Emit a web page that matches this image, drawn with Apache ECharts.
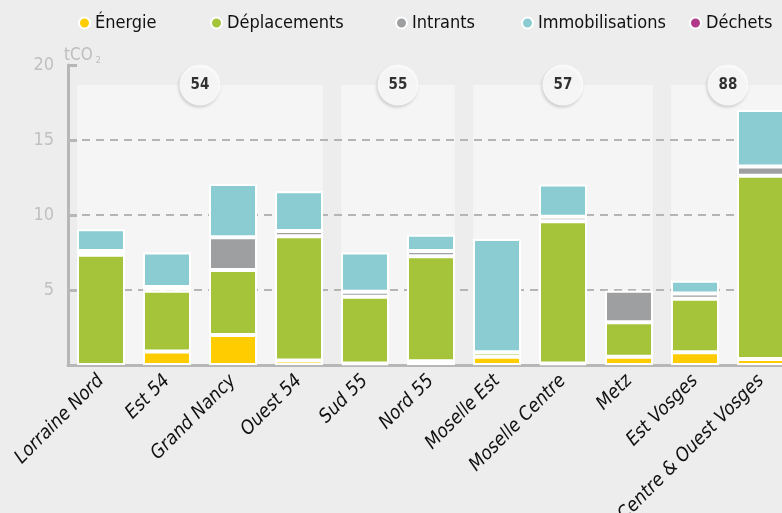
<!DOCTYPE html>
<html>
<head>
<meta charset="utf-8">
<script src="https://cdn.jsdelivr.net/npm/echarts@6/dist/echarts.min.js"></script>
<style>
  html, body { margin: 0; padding: 0; background: #ecedec; }
  #main { width: 782px; height: 513px; }
</style>
</head>
<body>
<div id="main"></div>
<script>
var categories = ['Lorraine Nord', 'Est 54', 'Grand Nancy', 'Ouest 54', 'Sud 55', 'Nord 55',
  'Moselle Est', 'Moselle Centre', 'Metz', 'Est Vosges', 'Centre & Ouest Vosges'];
var energie         = [0,    0.9,  2.0,  0.3,  0.1,  0.25, 0.55, 0.1,  0.55, 0.85, 0.4];
var deplacements    = [7.35, 4.05, 4.33, 8.28, 4.45, 7.0,  0.3,  9.48, 2.3,  3.57, 12.22];
var intrants        = [0.25, 0.25, 2.18, 0.35, 0.33, 0.35, 0,    0.3,  2.1,  0.35, 0.62];
var immobilisations = [1.45, 2.3,  3.56, 2.65, 2.62, 1.09, 7.55, 2.15, 0,    0.85, 3.76];
var dechets         = [0,    0,    0,    0,    0,    0,    0,    0,    0,    0,    0];
var yTicks = [0, 5, 10, 15, 20];

// departement groups: label, first and last category index
var groupLabels = ['54', '55', '57', '88'];
var groupFirst  = [0, 4, 6, 9];
var groupLast   = [3, 5, 8, 10];

var names = ['Énergie', 'Déplacements', 'Intrants', 'Immobilisations', 'Déchets'];
var colors = ['#ffcc00', '#a5c439', '#9d9fa1', '#8accd2', '#b0398a'];
var seriesData = [energie, deplacements, intrants, immobilisations, dechets];
var legendLeft = [78, 210, 395, 521, 689];

var font = "'Liberation Sans Narrow', 'DejaVu Sans Condensed', Roboto, sans-serif";
var axisGray = '#b7b7b7';
var half = 0.36; // half bar width in category units
var panelTop = 18.67;

var chart = echarts.init(document.getElementById('main'));

var series = names.map(function (n, i) {
  return {
    name: n,
    type: 'bar',
    stack: 'total',
    barWidth: 48,
    data: seriesData[i].map(function (v) { return v === 0 ? null : v; }),
    itemStyle: { color: colors[i], borderColor: '#ffffff', borderWidth: 2 },
    z: 4
  };
});

// lighter panels behind each group
series.push({
  type: 'scatter',
  xAxisIndex: 1,
  data: [],
  silent: true,
  z: 0,
  markArea: {
    silent: true,
    itemStyle: { color: '#f5f5f5' },
    data: groupLabels.map(function (g, i) {
      return [{ xAxis: groupFirst[i] + 0.5 - half, yAxis: 0 },
              { xAxis: groupLast[i] + 0.5 + half, yAxis: panelTop }];
    })
  }
});

// numbered bubbles
series.push({
  type: 'scatter',
  xAxisIndex: 1,
  silent: true,
  symbolSize: 41,
  z: 6,
  itemStyle: {
    color: '#ffffff',
    shadowColor: 'rgba(0,0,0,0.2)',
    shadowBlur: 3,
    shadowOffsetX: -1,
    shadowOffsetY: 2
  },
  label: {
    show: true,
    position: 'inside',
    formatter: function (p) { return p.data[2]; },
    color: '#000',
    fontWeight: 'bold',
    fontSize: 15,
    fontFamily: font
  },
  data: groupLabels.map(function (g, i) {
    return [(groupFirst[i] + groupLast[i] + 1) / 2, panelTop, g];
  })
});

chart.setOption({
  backgroundColor: '#ecedec',
  animation: false,
  legend: names.map(function (n, i) {
    return {
      data: [n],
      left: legendLeft[i],
      top: 14,
      padding: 0,
      icon: 'circle',
      itemWidth: 11,
      itemHeight: 11,
      itemGap: 0,
      textStyle: { color: '#111', fontSize: 18, fontFamily: font }
    };
  }),
  grid: { left: 68, right: -12, top: 65, bottom: 148, outerBoundsMode: 'none', containLabel: false },
  xAxis: [{
    type: 'category',
    data: categories,
    z: 3,
    axisLine: { lineStyle: { color: axisGray, width: 3 } },
    axisTick: { inside: true, length: 6, lineStyle: { color: axisGray, width: 2 } },
    axisLabel: {
      rotate: 45,
      interval: 0,
      margin: 13,
      color: '#111',
      fontSize: 19,
      fontStyle: 'italic',
      fontFamily: font
    }
  }, {
    type: 'value',
    min: 0,
    max: categories.length,
    show: false
  }],
  yAxis: {
    type: 'value',
    z: 3,
    min: yTicks[0],
    max: yTicks[yTicks.length - 1],
    interval: 5,
    name: 'tCO{s|2}',
    nameLocation: 'end',
    nameGap: 0,
    nameTextStyle: {
      align: 'left',
      color: '#bdbdbd',
      fontSize: 17,
      fontFamily: font,
      padding: [0, 0, 0, -4],
      rich: { s: { fontSize: 9, color: '#bdbdbd', verticalAlign: 'bottom', padding: [10, 0, 0, 3] } }
    },
    axisLine: { show: true, lineStyle: { color: axisGray, width: 3 } },
    axisTick: { show: true, inside: true, length: 9, lineStyle: { color: axisGray, width: 3 } },
    axisLabel: {
      color: '#c0c0c0',
      fontSize: 18,
      margin: 14,
      fontFamily: font,
      formatter: function (v) { return v === 0 ? '' : v; }
    },
    splitLine: {
      show: true,
      showMinLine: false,
      showMaxLine: false,
      lineStyle: { color: '#b5b5b5', width: 2, type: [8, 6] }
    }
  },
  series: series
});
</script>
</body>
</html>
